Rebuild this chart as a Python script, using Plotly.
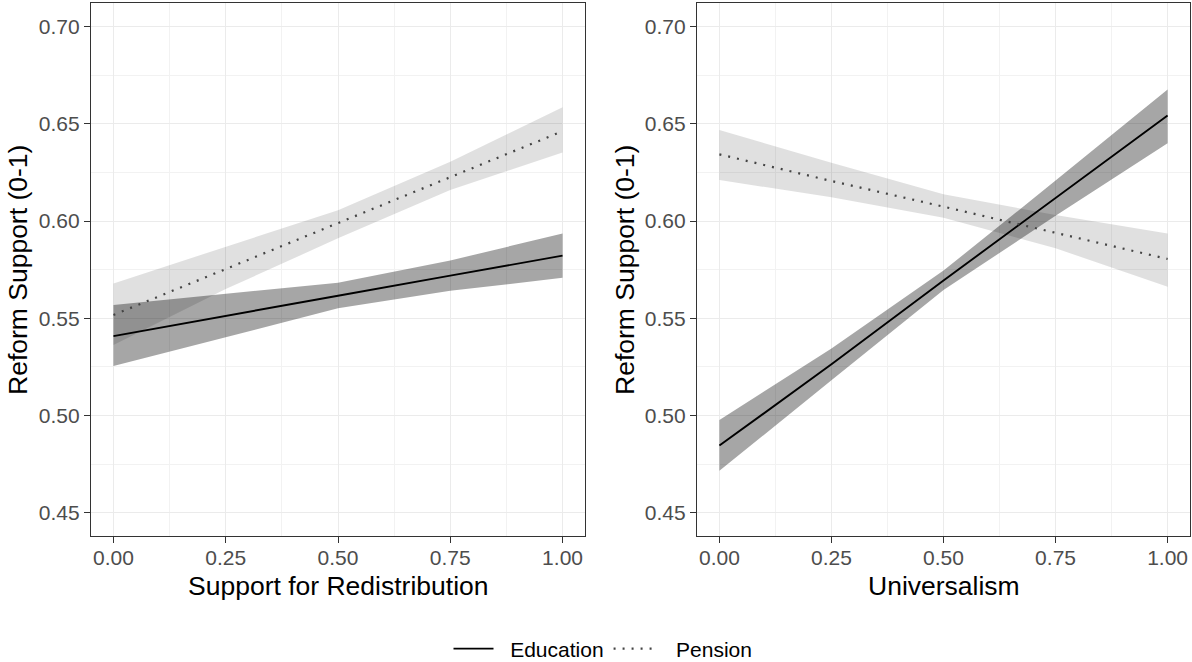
import plotly.graph_objects as go

# ---------------- data ----------------
x_grid = [0.0, 0.25, 0.5, 0.75, 1.0]

# Left panel: Support for Redistribution
left_edu_fit = [0.5408, 0.5513, 0.5616, 0.5719, 0.5822]
left_edu_hi = [0.5568, 0.5625, 0.5683, 0.5797, 0.5936]
left_edu_lo = [0.5254, 0.5403, 0.5551, 0.5641, 0.5708]

left_pen_fit = [0.5517, 0.5753, 0.5990, 0.6226, 0.6462]
left_pen_hi = [0.5679, 0.5868, 0.6056, 0.6305, 0.6585]
left_pen_lo = [0.5362, 0.5650, 0.5911, 0.6160, 0.6353]

# Right panel: Universalism
right_edu_fit = [0.4845, 0.5263, 0.5694, 0.6117, 0.6543]
right_edu_hi = [0.4977, 0.5345, 0.5745, 0.6208, 0.6677]
right_edu_lo = [0.4715, 0.5181, 0.5645, 0.6027, 0.6400]

right_pen_fit = [0.6343, 0.6206, 0.6074, 0.5940, 0.5805]
right_pen_hi = [0.6468, 0.6300, 0.6138, 0.6031, 0.5936]
right_pen_lo = [0.6211, 0.6122, 0.6017, 0.5860, 0.5662]

x_titles = ["Support for Redistribution", "Universalism"]
y_title = "Reform Support (0-1)"
series_names = ["Education", "Pension"]

# ---------------- styles ----------------
W, H = 1192, 662
EDU_FILL = "rgba(0,0,0,0.35)"
PEN_FILL = "rgba(0,0,0,0.12)"
FONT = "Liberation Sans, Arial, sans-serif"
NB = "\u00a0"

fig = go.Figure()

panels = [
    ("x", "y", left_edu_fit, left_edu_hi, left_edu_lo, left_pen_fit, left_pen_hi, left_pen_lo),
    ("x2", "y2", right_edu_fit, right_edu_hi, right_edu_lo, right_pen_fit, right_pen_hi, right_pen_lo),
]

for i, (xa, ya, ef, eh, el, pf, ph, pl) in enumerate(panels):
    # ribbons
    fig.add_trace(go.Scatter(x=x_grid + x_grid[::-1], y=eh + el[::-1], fill="toself",
                             fillcolor=EDU_FILL, line=dict(width=0), mode="lines",
                             hoverinfo="skip", showlegend=False, xaxis=xa, yaxis=ya))
    fig.add_trace(go.Scatter(x=x_grid + x_grid[::-1], y=ph + pl[::-1], fill="toself",
                             fillcolor=PEN_FILL, line=dict(width=0), mode="lines",
                             hoverinfo="skip", showlegend=False, xaxis=xa, yaxis=ya))
    # lines
    fig.add_trace(go.Scatter(x=x_grid, y=ef, mode="lines", name=NB * 2 + series_names[0],
                             line=dict(color="black", width=1.9),
                             showlegend=(i == 0), legendgroup="edu", xaxis=xa, yaxis=ya))
    fig.add_trace(go.Scatter(x=x_grid, y=pf, mode="lines", name=NB * 3 + series_names[1],
                             line=dict(color="#444444", width=2.2, dash="2px,7px"),
                             showlegend=(i == 0), legendgroup="pen", xaxis=xa, yaxis=ya))

def xaxis_style(domain, anchor):
    return dict(domain=domain, anchor=anchor, range=[-0.05, 1.05], automargin=False,
                tick0=0, dtick=0.25, tickformat=".2f", ticklabelstandoff=-3,
                showgrid=True, gridcolor="#ebebeb", gridwidth=1.4,
                minor=dict(dtick=0.125, tick0=0, showgrid=True, gridcolor="#f2f2f2", gridwidth=0.8),
                showline=True, linecolor="#333333", linewidth=1.3, mirror=True,
                ticks="outside", ticklen=6, tickwidth=1.3, tickcolor="#333333",
                tickfont=dict(family=FONT, size=21, color="#4d4d4d"),
                zeroline=False, fixedrange=True)

def yaxis_style(domain, anchor):
    return dict(domain=domain, anchor=anchor, range=[0.4380, 0.7120], automargin=False,
                tick0=0.45, dtick=0.05, tickformat=".2f",
                showgrid=True, gridcolor="#ebebeb", gridwidth=1.4,
                minor=dict(dtick=0.025, tick0=0.45, showgrid=True, gridcolor="#f2f2f2", gridwidth=0.8),
                showline=True, linecolor="#333333", linewidth=1.3, mirror=True,
                ticks="outside", ticklen=6, tickwidth=1.3, tickcolor="#333333",
                tickfont=dict(family=FONT, size=21, color="#4d4d4d"),
                zeroline=False, fixedrange=True)

ydom = [1 - 536 / H, 1 - 3.3 / H]
xdom1 = [91 / W, 585 / W]
xdom2 = [697 / W, 1190 / W]

annotations = []
for xd, t in zip([xdom1, xdom2], x_titles):
    annotations.append(dict(text=t, xref="paper", yref="paper", x=(xd[0] + xd[1]) / 2,
                            y=1 - 586 / H, xanchor="center", yanchor="middle", showarrow=False,
                            font=dict(family=FONT, size=26.5, color="black")))
for xc in [18 / W, 625 / W]:
    annotations.append(dict(text=y_title, xref="paper", yref="paper", x=xc,
                            y=1 - 270 / H, xanchor="center", yanchor="middle", showarrow=False,
                            textangle=-90, font=dict(family=FONT, size=26.5, color="black")))

fig.update_layout(
    width=W, height=H,
    margin=dict(l=0, r=0, t=0, b=0, autoexpand=False),
    paper_bgcolor="white", plot_bgcolor="white",
    font=dict(family=FONT),
    xaxis=xaxis_style(xdom1, "y"),
    yaxis=yaxis_style(ydom, "x"),
    xaxis2=xaxis_style(xdom2, "y2"),
    yaxis2=yaxis_style(ydom, "x2"),
    legend=dict(orientation="h", x=603 / W, xanchor="center", y=1 - 649 / H, yanchor="middle",
                font=dict(family=FONT, size=21, color="black"), bgcolor="rgba(0,0,0,0)",
                itemwidth=40, tracegroupgap=0),
    annotations=annotations,
    showlegend=True,
)

fig.write_html("out.html", config={"displayModeBar": False},
               post_script="document.body.style.margin='0';document.body.style.overflow='hidden';")
